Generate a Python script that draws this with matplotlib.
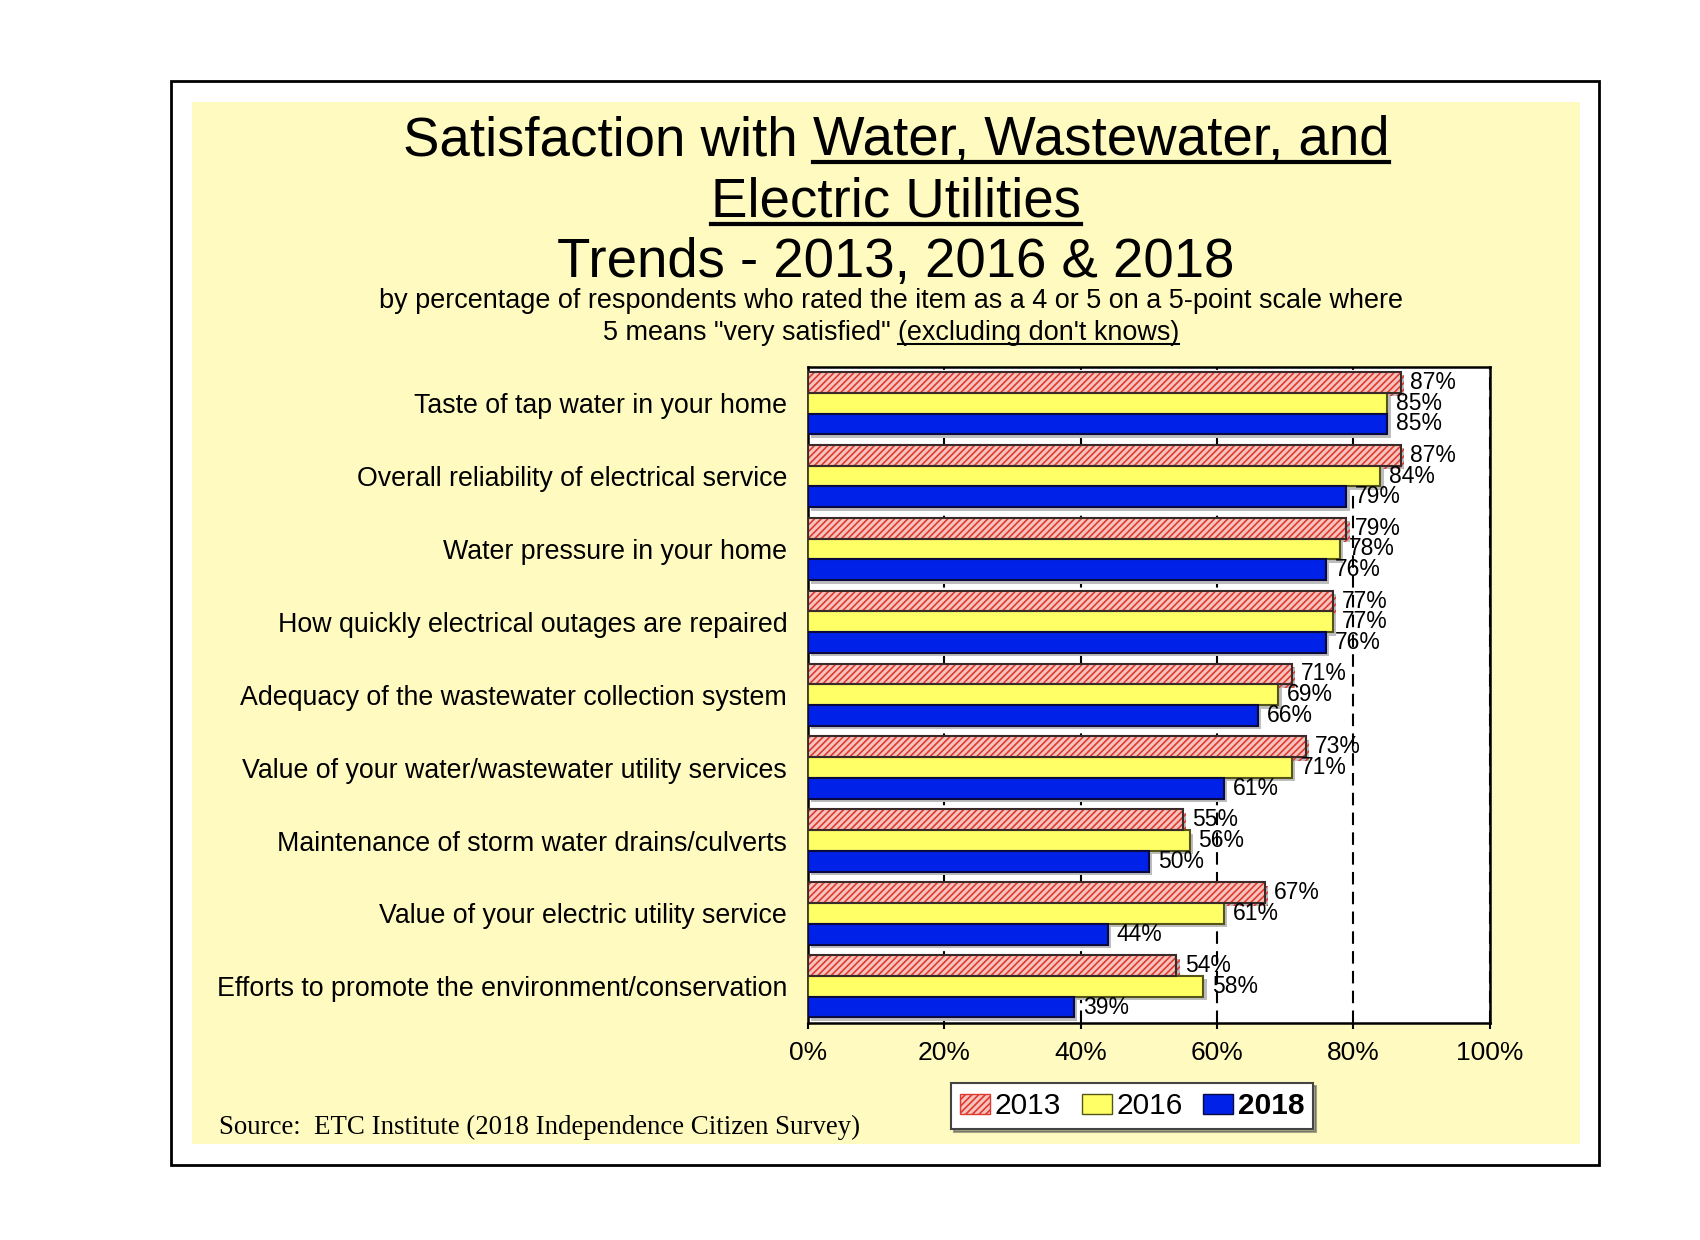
import matplotlib.pyplot as plt
import matplotlib.patheffects as pe
from matplotlib.patches import Rectangle, Patch
from matplotlib.lines import Line2D
import numpy as np

categories = [
    "Taste of tap water in your home",
    "Overall reliability of electrical service",
    "Water pressure in your home",
    "How quickly electrical outages are repaired",
    "Adequacy of the wastewater collection system",
    "Value of your water/wastewater utility services",
    "Maintenance of storm water drains/culverts",
    "Value of your electric utility service",
    "Efforts to promote the environment/conservation",
]
vals_2013 = [87, 87, 79, 77, 71, 73, 55, 67, 54]
vals_2016 = [85, 84, 78, 77, 69, 71, 56, 61, 58]
vals_2018 = [85, 79, 76, 76, 66, 61, 50, 44, 39]
years = ["2013", "2016", "2018"]
x_ticks = [0, 20, 40, 60, 80, 100]

plt.rcParams['font.family'] = ['Liberation Sans', 'DejaVu Sans']
plt.rcParams['hatch.linewidth'] = 1.2

PINK = '#F6C4BE'
PINK_HATCH = '#E03A30'
YELLOW = '#FFFF66'
BLUE = '#0022E8'

fig = plt.figure(figsize=(17, 12.4), dpi=100)
fig.patches.append(Rectangle((0.1004, 0.0605), 0.8402, 0.8742, transform=fig.transFigure,
                             fill=False, edgecolor='black', lw=2, zorder=-2))
fig.patches.append(Rectangle((0.1129, 0.0774), 0.8165, 0.8403, transform=fig.transFigure,
                             facecolor='#FFFBC0', edgecolor='none', zorder=-1))

ax = fig.add_axes([0.4753, 0.1752, 0.4009, 0.5291])
ax.set_zorder(1)
ax.set_facecolor('white')

y = np.arange(len(categories))
h = 0.285
shadow = [pe.SimplePatchShadow(offset=(2.5, -2.5), shadow_rgbFace='#bdbdbd', alpha=1.0), pe.Normal()]

# 2013 - hatched pink
ax.barh(y - h, vals_2013, height=h, color=PINK, edgecolor=PINK_HATCH, hatch='/////',
        lw=0, path_effects=shadow, zorder=3)
ax.barh(y - h, vals_2013, height=h, fill=False, edgecolor='#3a2a2a', lw=1.5, zorder=4)
# 2016 - yellow
ax.barh(y, vals_2016, height=h, color=YELLOW, edgecolor='#55551A', lw=1.5,
        path_effects=shadow, zorder=3)
# 2018 - blue
ax.barh(y + h, vals_2018, height=h, color=BLUE, edgecolor='#0A0A40', lw=1.5,
        path_effects=shadow, zorder=3)

for vals, off in [(vals_2013, -h), (vals_2016, 0), (vals_2018, h)]:
    for i, v in enumerate(vals):
        ax.text(v + 1.3, i + off, f"{v}%", va='center', ha='left', fontsize=16.5, zorder=5)

ax.set_xlim(0, 100)
ax.set_ylim(len(categories) - 0.5, -0.5)
ax.set_xticks(x_ticks)
ax.set_xticklabels([f"{t}%" for t in x_ticks], fontsize=19)
ax.set_yticks(y)
ax.set_yticklabels(categories, fontsize=19.3)
ax.tick_params(axis='y', length=0, pad=15)
ax.tick_params(axis='x', length=4, width=1.5, pad=9)
ax.set_axisbelow(True)
ax.xaxis.grid(True, linestyle=(0, (6, 3.5)), color='black', lw=1.5)
for s in ax.spines.values():
    s.set_linewidth(1.8)
    s.set_color('black')

# title lines, some parts underlined
fig.canvas.draw()
renderer = fig.canvas.get_renderer()


def text_width(s, size):
    t = fig.text(0, 0, s, fontsize=size)
    w = t.get_window_extent(renderer).width / fig.bbox.width
    t.remove()
    return w


def draw_line(parts, xc, yb, size, ul_off=0.13):
    widths = [text_width(s, size) for s, _ in parts]
    x = xc - sum(widths) / 2
    for (s, ul), w in zip(parts, widths):
        fig.text(x, yb, s, fontsize=size, ha='left', va='baseline')
        if ul:
            uy = yb - size * ul_off / 72 / fig.get_figheight()
            fig.add_artist(Line2D([x, x + w], [uy, uy], transform=fig.transFigure,
                                  color='black', lw=size / 13))
        x += w


draw_line([("Satisfaction with ", False), ("Water, Wastewater, and", True)], 0.527, 0.875, 39.3)
draw_line([("Electric Utilities", True)], 0.527, 0.8252, 39.3)
draw_line([("Trends - 2013, 2016 & 2018", False)], 0.527, 0.7769, 39.3)
draw_line([("by percentage of respondents who rated the item as a 4 or 5 on a 5-point scale where", False)],
          0.524, 0.7516, 19.45)
draw_line([('5 means "very satisfied" ', False), ("(excluding don't knows)", True)],
          0.524, 0.7258, 19.45, ul_off=0.16)

fig.text(0.129, 0.091, "Source:  ETC Institute (2018 Independence Citizen Survey)",
         family='Liberation Serif', fontsize=19.4, va='center', ha='left')

handles = [
    Patch(facecolor=PINK, edgecolor=PINK_HATCH, hatch='/////'),
    Patch(facecolor=YELLOW, edgecolor='#55551A'),
    Patch(facecolor=BLUE, edgecolor='#0A0A40'),
]
leg = fig.legend(handles, years, loc='center', bbox_to_anchor=(0.666, 0.108), ncol=3,
                 fontsize=21.5, frameon=True, fancybox=False, shadow=True, edgecolor='#444444',
                 handlelength=1.0, handleheight=0.65, handletextpad=0.15, columnspacing=0.7,
                 borderpad=0.3)
leg.get_frame().set_linewidth(1.5)
leg.get_texts()[2].set_fontweight('bold')

fig.savefig('out.png', dpi=100, facecolor='white')
